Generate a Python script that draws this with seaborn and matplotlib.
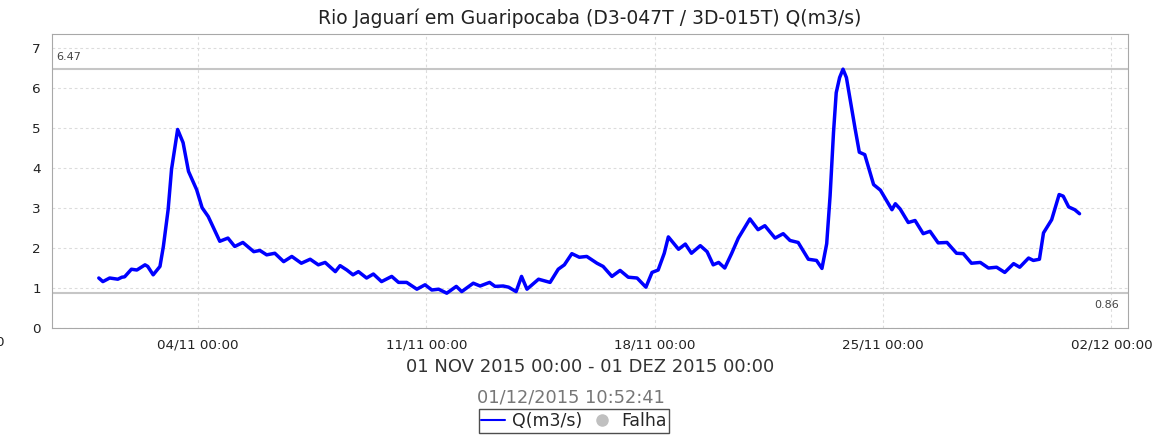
import pandas as pd
import matplotlib
matplotlib.use("Agg")
import matplotlib.pyplot as plt
import matplotlib.dates as mdates
import seaborn as sns
from matplotlib.lines import Line2D

# Flow readings: hours elapsed since 2015-10-31 00:00 and Q (m3/s)
hours = [
    23, 26, 31, 37, 40, 42, 47, 51, 57, 59, 63, 68, 70.5, 74, 76.5, 81, 85, 89, 95, 99,
    103.5, 112, 118, 123, 129, 137, 141.5, 146.5, 152.5, 159, 165, 172, 178.5, 184.5, 189.5,
    197, 200.5, 205.5, 210, 214, 220, 225, 231, 238.5, 243.5, 249.5, 257, 263, 268, 273,
    279, 286, 290, 298.5, 303.5, 310.5, 314.5, 320.5, 324.5, 330, 334, 338, 346.5, 355,
    361, 365.5, 371, 376.5, 382, 389.5, 394, 400.5, 406.5, 412.5, 419, 425.5, 430, 434.5,
    439, 442, 449.5, 454.5, 459, 465.5, 470.5, 475, 479, 483.5, 488.5, 493.5, 502, 508,
    513, 520.5, 526.5, 531.5, 537.5, 545, 551, 555, 558.5, 561, 563.5, 565.5, 568, 570.5,
    573, 577, 579.5, 582.5, 586.5, 593, 598, 606.5, 609, 612.5, 618.5, 623.5, 629.5, 634.5,
    640.5, 647, 654, 659, 665, 671.5, 677.5, 683.5, 689.5, 696, 700.5, 707, 710.5, 715,
    718, 724, 729.5, 732.5, 736.5, 741, 744.5,
]
flow = [
    1.24, 1.15, 1.24, 1.21, 1.26, 1.27, 1.46, 1.44, 1.57, 1.53, 1.32, 1.53, 2.03, 2.95, 3.96, 4.96, 4.63, 3.91, 3.45, 3.00,
    2.78, 2.16, 2.24, 2.03, 2.13, 1.90, 1.93, 1.82, 1.86, 1.65, 1.78, 1.61, 1.71, 1.57, 1.63,
    1.40, 1.55, 1.44, 1.32, 1.40, 1.24, 1.34, 1.15, 1.28, 1.13, 1.13, 0.96, 1.07, 0.94, 0.96,
    0.86, 1.03, 0.90, 1.11, 1.04, 1.13, 1.03, 1.04, 1.01, 0.90, 1.28, 0.96, 1.21, 1.13,
    1.46, 1.57, 1.85, 1.76, 1.78, 1.61, 1.53, 1.28, 1.43, 1.26, 1.24, 1.01, 1.38, 1.44,
    1.86, 2.27, 1.96, 2.09, 1.86, 2.05, 1.90, 1.57, 1.63, 1.49, 1.85, 2.24, 2.72, 2.45,
    2.55, 2.24, 2.35, 2.18, 2.13, 1.71, 1.68, 1.48, 2.10, 3.30, 4.88, 5.88, 6.26, 6.47,
    6.26, 5.46, 4.96, 4.39, 4.33, 3.58, 3.44, 2.95, 3.10, 2.97, 2.63, 2.68, 2.35, 2.41,
    2.12, 2.13, 1.86, 1.85, 1.61, 1.63, 1.49, 1.51, 1.38, 1.60, 1.51, 1.74, 1.68, 1.71,
    2.37, 2.70, 3.33, 3.29, 3.02, 2.95, 2.85,
]

tick_dates = ["2015-11-04", "2015-11-11", "2015-11-18", "2015-11-25", "2015-12-02"]
tick_labels = ["04/11 00:00", "11/11 00:00", "18/11 00:00", "25/11 00:00", "02/12 00:00"]
q_max, q_min = 6.47, 0.86

df = pd.DataFrame({
    "time": pd.Timestamp("2015-10-31 00:00") + pd.to_timedelta(hours, unit="h"),
    "Q": flow,
})

sns.set_style("white")
plt.rcParams["font.family"] = ["DejaVu Sans"]

fig = plt.figure(figsize=(11.59, 4.42), dpi=100)
ax = fig.add_axes([0.0449, 0.259, 0.9284, 0.664])

sns.lineplot(data=df, x="time", y="Q", color="#0000ff", linewidth=2.5,
             sort=False, ax=ax, legend=False, zorder=3)

# max / min reference lines
ax.axhline(q_max, color="#c6c6c6", lw=1.5, zorder=1)
ax.axhline(q_min, color="#c6c6c6", lw=1.5, zorder=1)
ax.annotate(f"{q_max:.2f}", xy=(0.004, q_max), xycoords=("axes fraction", "data"),
            xytext=(0, 5), textcoords="offset points", ha="left", va="bottom",
            fontsize=8, color="#444444")
ax.annotate(f"{q_min:.2f}", xy=(0.992, q_min), xycoords=("axes fraction", "data"),
            xytext=(0, -5), textcoords="offset points", ha="right", va="top",
            fontsize=8, color="#444444")

ax.set_xlim(pd.Timestamp("2015-10-30 12:36"), pd.Timestamp("2015-12-02 12:12"))
ax.set_ylim(0, 7.35)
ax.set_xticks(mdates.date2num(pd.to_datetime(tick_dates)), tick_labels)
ax.set_yticks(range(8))
ax.set_xlabel("")
ax.set_ylabel("")
ax.grid(True, linestyle=(0, (2.5, 2.5)), color="#dcdcdc", linewidth=0.8, zorder=0)
for s in ax.spines.values():
    s.set_color("#a8a8a8")
ax.tick_params(axis="both", direction="out", length=3, color="#a0a0a0",
               labelsize=9.7, labelcolor="#222222", pad=5)

fig.text(0.509, 0.959, "Rio Jaguarí em Guaripocaba (D3-047T / 3D-015T) Q(m3/s)",
         ha="center", va="center", fontsize=13.5, color="#222222")
fig.text(0.509, 1 - 367 / 442, "01 NOV 2015 00:00 - 01 DEZ 2015 00:00",
         ha="center", va="center", fontsize=13.0, color="#333333")
fig.text(0.493, 1 - 397 / 442, "01/12/2015 10:52:41",
         ha="center", va="center", fontsize=12.8, color="#777777")
fig.text(4 / 1159, 1 - 343 / 442, "0", ha="right", va="center", fontsize=9.7,
         color="#222222")

handles = [
    Line2D([], [], color="#0000ff", lw=1.5),
    Line2D([], [], color="#c0c0c0", lw=0, marker="o", markersize=8),
]
leg = fig.legend(handles, ["Q(m3/s)", "Falha"], loc="center", ncol=2,
                 bbox_to_anchor=(0.495, 0.0475), fontsize=12.5, frameon=True,
                 fancybox=False, handlelength=1.4, handletextpad=0.4,
                 columnspacing=0.4, borderpad=0.15, borderaxespad=0)
leg.get_frame().set_edgecolor("#222222")
leg.get_frame().set_linewidth(1.0)

fig.savefig("out.png", dpi=100)
